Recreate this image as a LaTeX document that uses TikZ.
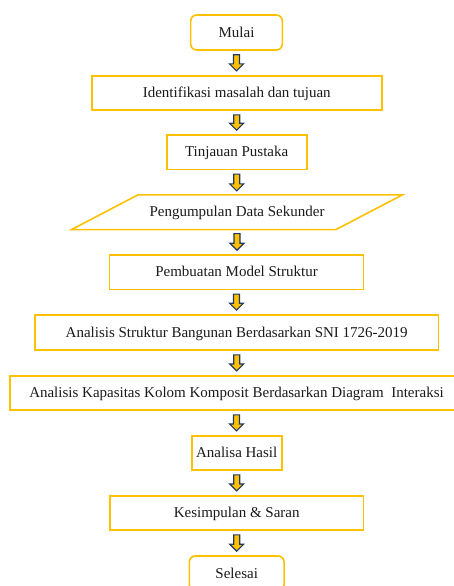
\documentclass[tikz,border=0pt]{standalone}
\usepackage{fontspec}
\setmainfont{Liberation Serif}
\usetikzlibrary{calc}
\definecolor{gold}{HTML}{FFC000}
\definecolor{navy}{HTML}{1F3864}
\definecolor{ink}{HTML}{1A1A1A}
\tikzset{
  box/.style={draw=gold, line width=1.6pt, rectangle, inner sep=0pt, text=ink,
    font=\fontsize{15}{18}\selectfont, minimum height=34.3pt, text height=11.5pt, text depth=2pt},
  term/.style={box, rounded corners=6pt},
  plain/.style={rectangle, inner sep=0pt, text=ink,
    font=\fontsize{15}{18}\selectfont, minimum height=34.3pt, text height=11.5pt, text depth=2pt},
  barrow/.style={draw=navy, fill=gold, line width=1.1pt, line join=miter},
}
\newcommand\blockarr[2]{%
  \path[barrow] let \p1=(#1.south), \p2=(#2.north) in
    (\x1-3pt,\y1-4pt) -- (\x1+3pt,\y1-4pt) -- (\x1+3pt,\y2+11pt) -- (\x1+7pt,\y2+11pt)
    -- (\x1,\y2+4pt) -- (\x1-7pt,\y2+11pt) -- (\x1-3pt,\y2+11pt) -- cycle;}
\begin{document}
\begin{tikzpicture}[x=1pt,y=-1pt]
\useasboundingbox (0,0) rectangle (453,586);
\node[term, minimum width=91.7pt, minimum height=35pt] (mulai) at (236.5,32.5) {Mulai};
\node[box, minimum width=290pt] (ident) at (236.7,92.9) {Identifikasi masalah dan tujuan};
\node[box, minimum width=140pt] (tinjau) at (236.7,152.2) {Tinjauan Pustaka};
\node[plain, minimum width=264pt] (data) at (237,212.2) {Pengumpulan Data Sekunder};
\draw[gold, line width=1.6pt, line join=miter]
  ($(data.south west)+(-33.2pt,0)$) -- ($(data.south east)+(-33.2pt,0)$)
  -- ($(data.north east)+(33.2pt,0)$) -- ($(data.north west)+(33.2pt,0)$) -- cycle;
\node[box, minimum width=254pt] (model) at (236.5,272.2) {Pembuatan Model Struktur};
\node[box, minimum width=403.3pt, minimum height=35pt] (struk) at (236.7,332.5) {Analisis Struktur Bangunan Berdasarkan SNI 1726-2019};
\node[box, minimum width=453pt] (kap) at (236.5,392.9) {Analisis Kapasitas Kolom Komposit Berdasarkan Diagram~ Interaksi};
\node[box, minimum width=90pt] (hasil) at (236.7,452.9) {Analisa Hasil};
\node[box, minimum width=253.3pt] (simpul) at (236.7,512.9) {Kesimpulan \& Saran};
\node[term, minimum width=94.7pt, minimum height=35pt] (selesai) at (236.7,573.5) {Selesai};
\blockarr{mulai}{ident}
\blockarr{ident}{tinjau}
\blockarr{tinjau}{data}
\blockarr{data}{model}
\blockarr{model}{struk}
\blockarr{struk}{kap}
\blockarr{kap}{hasil}
\blockarr{hasil}{simpul}
\blockarr{simpul}{selesai}
\end{tikzpicture}
\end{document}
